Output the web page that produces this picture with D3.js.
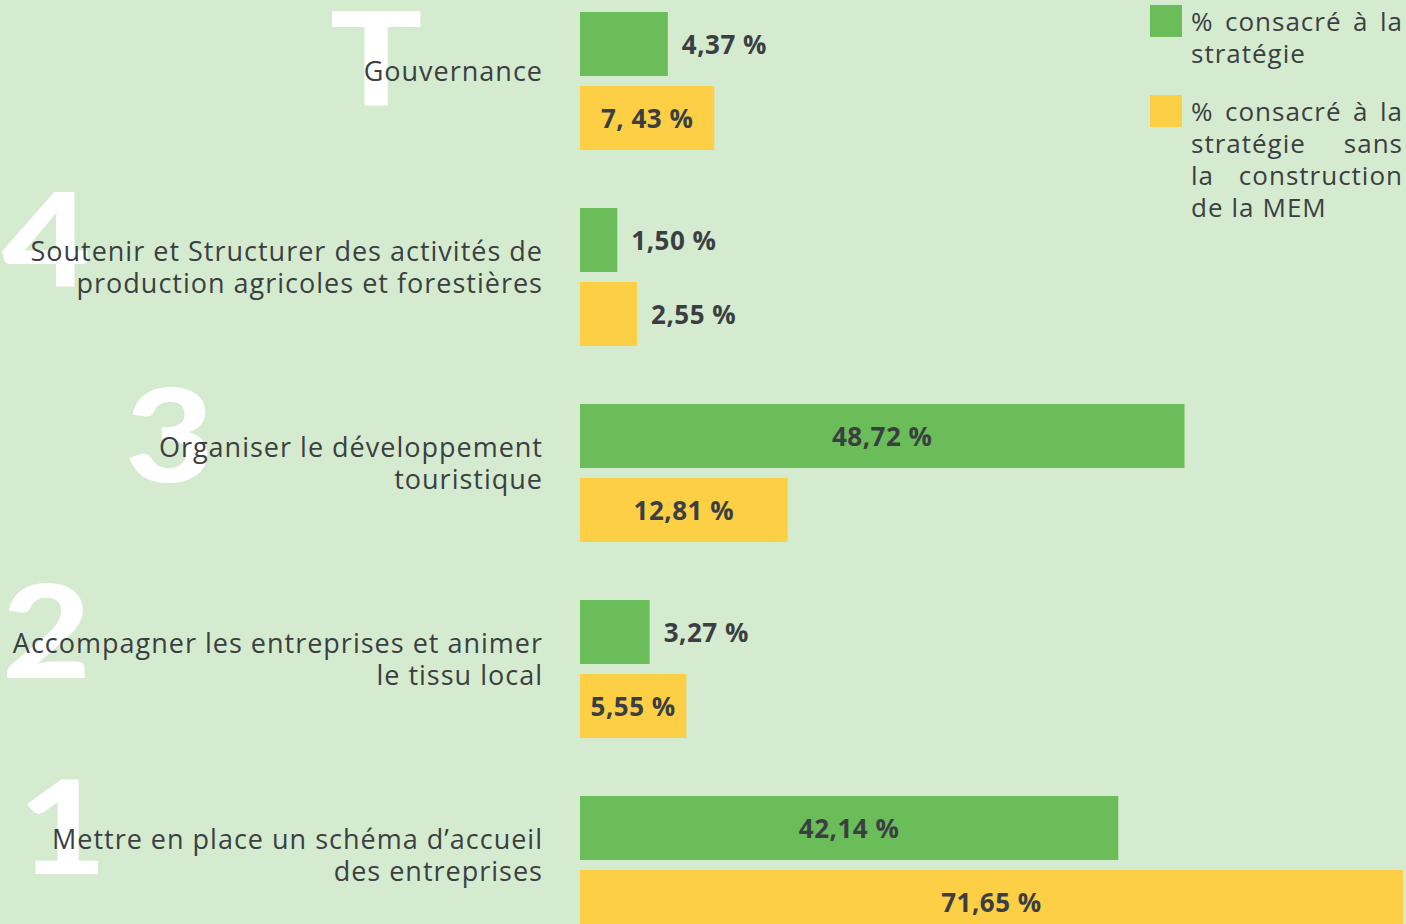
<!DOCTYPE html>
<html>
<head>
<meta charset="utf-8">
<script src="https://cdn.jsdelivr.net/npm/d3@7"></script>
<style>
  html, body { margin: 0; padding: 0; background: #d5ebd0; overflow: hidden; }
  svg { display: block; }
  .axis-label { font-family: "Open Sans", sans-serif; fill: #3b3f42; letter-spacing: 1px; }
  .value { font-family: "Open Sans", sans-serif; font-weight: 700; fill: #3b3f42; letter-spacing: 0.5px; }
  .glyph { font-family: "Lato", sans-serif; font-weight: 900; fill: #ffffff; }
</style>
</head>
<body>
<div id="chart"></div>
<script>
(function () {
  // categories, top to bottom
  const categories = ["T", "4", "3", "2", "1"];
  const categoryLines = [
    ["Gouvernance"],
    ["Soutenir et Structurer des activités de", "production agricoles et forestières"],
    ["Organiser le développement", "touristique"],
    ["Accompagner les entreprises et animer", "le tissu local"],
    ["Mettre en place un schéma d’accueil", "des entreprises"],
  ];
  const series = ["strategie", "sansMEM"];
  const strategieValues = [4.37, 1.5, 48.72, 3.27, 42.14];
  const sansMEMValues = [7.43, 2.55, 12.81, 5.55, 71.65];
  const strategieLabels = ["4,37 %", "1,50 %", "48,72 %", "3,27 %", "42,14 %"];
  const sansMEMLabels = ["7, 43 %", "2,55 %", "12,81 %", "5,55 %", "71,65 %"];
  const legendLines = [
    [["% consacré à la", true], ["stratégie", false]],
    [["% consacré à la", true], ["stratégie sans", true], ["la construction", true], ["de la MEM", false]],
  ];

  const colors = { strategie: "#6abd58", sansMEM: "#fccf45" };
  const width = 1406;
  const height = 924;
  const barX0 = 580;
  const labelRight = 543;
  const lineHeight = 32;

  const svg = d3
    .select("#chart")
    .append("svg")
    .attr("width", width)
    .attr("height", height);

  svg.append("rect").attr("width", width).attr("height", height).attr("fill", "#d5ebd0");

  const yGroup = d3.scaleBand().domain(categories).range([12, 12 + 196 * 5]);
  const ySeries = d3.scaleBand().domain(series).range([0, 138]).paddingInner(0.135);
  // bar lengths in the original are compressed for large shares
  const xScale = d3.scalePow().exponent(0.8).domain([0, 71.65]).range([0, 823]);

  const rows = categories.map((c, i) => ({
    cat: c,
    lines: categoryLines[i],
    bars: [
      { key: "strategie", value: strategieValues[i], label: strategieLabels[i] },
      { key: "sansMEM", value: sansMEMValues[i], label: sansMEMLabels[i] },
    ],
  }));

  const groups = svg
    .selectAll("g.group")
    .data(rows)
    .join("g")
    .attr("class", "group")
    .attr("transform", (d) => `translate(0, ${yGroup(d.cat)})`);

  // big white glyph + category label
  groups.each(function (d) {
    const g = d3.select(this);
    const blockCenter = 58;
    const firstY = blockCenter - ((d.lines.length - 1) * lineHeight) / 2;
    const glyph = g.append("text").attr("class", "glyph").attr("font-size", 130).text(d.cat);
    const label = g
      .append("text")
      .attr("class", "axis-label")
      .attr("font-size", 27)
      .attr("text-anchor", "end");
    d.lines.forEach((line, j) => {
      label
        .append("tspan")
        .attr("x", labelRight)
        .attr("y", firstY + j * lineHeight)
        .attr("dominant-baseline", "central")
        .text(line);
    });
    const firstLen = label.select("tspan").node().getComputedTextLength();
    const gx = Math.max(2, labelRight - firstLen - 34);
    glyph.attr("transform", `translate(${gx}, ${firstY + 36}) scale(1.18, 1)`);
  });

  // bars
  groups.each(function (d) {
    const g = d3.select(this);
    d.bars.forEach((b) => {
      const y = ySeries(b.key);
      const w = xScale(b.value);
      g.append("rect")
        .attr("x", barX0)
        .attr("y", y)
        .attr("width", w)
        .attr("height", ySeries.bandwidth())
        .attr("fill", colors[b.key]);
      const t = g
        .append("text")
        .attr("class", "value")
        .attr("font-size", 26)
        .attr("y", y + ySeries.bandwidth() / 2)
        .attr("dominant-baseline", "central")
        .text(b.label);
      const tw = t.node().getComputedTextLength();
      if (w > tw + 14) {
        t.attr("x", barX0 + w / 2).attr("text-anchor", "middle");
      } else {
        t.attr("x", barX0 + w + 14).attr("text-anchor", "start");
      }
    });
  });

  // legend with justified text
  const legendX = 1150;
  const legendTextX = 1191;
  const legendRight = 1403;
  const legendTops = [5, 95];
  series.forEach((s, i) => {
    const top = legendTops[i];
    svg
      .append("rect")
      .attr("x", legendX)
      .attr("y", top)
      .attr("width", 32)
      .attr("height", 32)
      .attr("fill", colors[s]);
    legendLines[i].forEach(([line, justify], j) => {
      const y = top + 16 + j * lineHeight;
      const words = line.split(" ");
      const texts = words.map((w) =>
        svg
          .append("text")
          .attr("class", "axis-label")
          .attr("font-size", 26)
          .attr("y", y)
          .attr("dominant-baseline", "central")
          .text(w)
      );
      const widths = texts.map((t) => t.node().getComputedTextLength());
      let gap = 8;
      if (justify && words.length > 1) {
        gap = (legendRight - legendTextX - d3.sum(widths)) / (words.length - 1);
      }
      let x = legendTextX;
      texts.forEach((t, k) => {
        t.attr("x", x);
        x += widths[k] + gap;
      });
    });
  });
})();
</script>
</body>
</html>
